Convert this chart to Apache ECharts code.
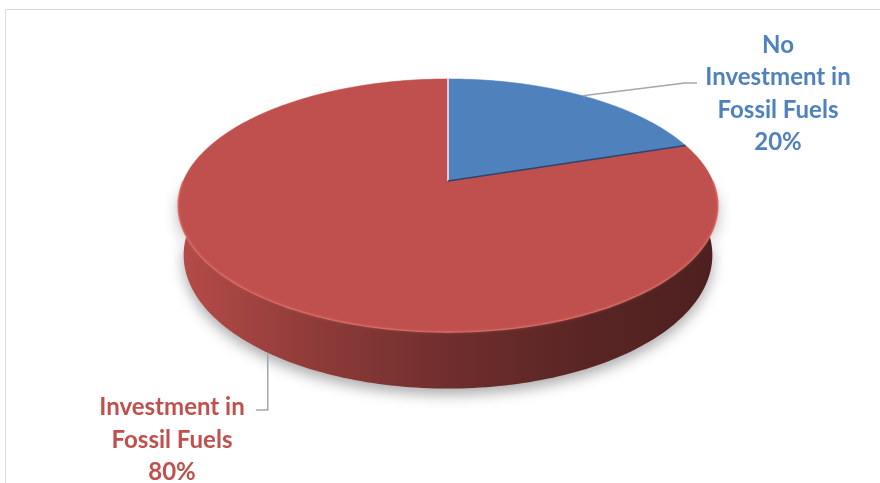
<!DOCTYPE html>
<html><head><meta charset="utf-8">
<script src="https://cdn.jsdelivr.net/npm/echarts@6/dist/echarts.min.js"></script>
<style>html,body{margin:0;padding:0;background:#fff}#c{width:880px;height:483px}</style>
</head><body><div id="c"></div>
<script>
// ---- data ----
const categories = ['No Investment in Fossil Fuels', 'Investment in Fossil Fuels'];
const labelTexts = ['No\nInvestment in\nFossil Fuels', 'Investment in\nFossil Fuels'];
const values = [20, 80];
const sliceColors = ['#4F81BD', '#C0504D'];

// ---- layout (3D perspective view of the pie) ----
const V = {cx: 448, cy: 181, f: 1245.6, kx: 0.98, d: 4.61, sinP: 0.451, cosP: 0.893, h: 0.206};
const LABEL_LAYOUT = [
  {anchor: [697, 83], elbow: 'horizontal', textX: 778, textY: 94},
  {anchor: [256, 410], elbow: 'vertical', textX: 172, textY: 440}
];
const SIDE_SHADE = [[0, 0.94], [0.25, 0.74], [0.5, 0.58], [0.8, 0.45], [1, 0.40]];

function proj(t, z) {
  const x = Math.sin(t), y = Math.cos(t);
  const Yc = y * V.sinP + z * V.cosP;
  const Zc = V.d + y * V.cosP - z * V.sinP;
  return [V.cx + V.kx * V.f * x / Zc, V.cy - V.f * Yc / Zc];
}
function arc(a0, a1, z) {
  const n = Math.max(2, Math.ceil((a1 - a0) / 0.02));
  const pts = [];
  for (let i = 0; i <= n; i++) pts.push(proj(a0 + (a1 - a0) * i / n, z));
  return pts;
}
function shade(hex, k) {
  const r = parseInt(hex.slice(1, 3), 16), g = parseInt(hex.slice(3, 5), 16), b = parseInt(hex.slice(5, 7), 16);
  return 'rgb(' + Math.round(r * k) + ',' + Math.round(g * k) + ',' + Math.round(b * k) + ')';
}
const total = values.reduce((a, b) => a + b, 0);

function renderItem(params, api) {
  const i = params.dataIndex;
  let before = 0;
  for (let k = 0; k < i; k++) before += values[k];
  const v = api.value(0);
  const start = before / total * Math.PI * 2;
  const end = (before + v) / total * Math.PI * 2;
  const color = sliceColors[i];
  const children = [];

  // outer side wall (front, visible part)
  const s0 = Math.max(start, Math.PI / 2), s1 = Math.min(end, Math.PI * 1.5);
  const left = proj(Math.PI * 1.5, 0)[0], right = proj(Math.PI * 0.5, 0)[0];
  if (s1 > s0) {
    const top = arc(s0, s1, 0);
    const bot = arc(s0, s1, -V.h).reverse();
    children.push({
      type: 'polygon', z2: 1,
      shape: {points: top.concat(bot)},
      style: {
        fill: new echarts.graphic.LinearGradient(left, 0, right, 0,
          SIDE_SHADE.map(s => ({offset: s[0], color: shade(color, s[1])})), true),
        shadowBlur: 14, shadowColor: 'rgba(0,0,0,0.33)', shadowOffsetY: 6
      }
    });
    children.push({
      type: 'polyline', z2: 7,
      shape: {points: top},
      style: {fill: null, stroke: 'rgba(225,115,110,0.55)', lineWidth: 1.6,
        shadowBlur: 3, shadowColor: 'rgba(235,130,125,0.6)'}
    });
  }
  // top face
  const apex = [V.cx, V.cy];
  children.push({
    type: 'polygon', z2: 5,
    shape: {points: [apex].concat(arc(start, end, 0))},
    style: {fill: color, stroke: color, lineWidth: 0.5}
  });
  // radial edge at slice start
  const edgePt = proj(start, 0);
  children.push({
    type: 'line', z2: 8,
    shape: {x1: apex[0], y1: apex[1], x2: edgePt[0], y2: edgePt[1]},
    style: {stroke: start === 0 ? 'rgba(255,255,255,0.9)' : '#2A4670', lineWidth: start === 0 ? 1.5 : 1.6}
  });

  // leader line + label
  const mid = (start + end) / 2;
  const ls = Math.cos(mid) < 0 ? proj(mid, -V.h) : proj(mid, 0);
  const L = LABEL_LAYOUT[i];
  const elbowPt = L.elbow === 'horizontal' ? [L.anchor[0] - 12, L.anchor[1]] : [ls[0], L.anchor[1]];
  children.push({
    type: 'polyline', z2: 9,
    shape: {points: [ls, elbowPt, L.anchor]},
    style: {fill: null, stroke: '#A6A6A6', lineWidth: 1.5}
  });
  const pct = Math.round(v / total * 100) + '%';
  children.push({
    type: 'text', z2: 10,
    style: {
      text: labelTexts[i] + '\n' + pct,
      x: L.textX, y: L.textY, align: 'center', verticalAlign: 'middle',
      fill: color, fontFamily: 'Lato', fontWeight: 'bold', fontSize: 24, lineHeight: 32.5
    }
  });
  return {type: 'group', children: children};
}

const chart = echarts.init(document.getElementById('c'), null, {renderer: 'canvas'});
chart.setOption({
  animation: false,
  backgroundColor: '#ffffff',
  graphic: [{
    type: 'rect', z: -1,
    shape: {x: 5.5, y: 9.5, width: 900, height: 500},
    style: {fill: 'none', stroke: '#D9D9D9', lineWidth: 1}
  }],
  series: [{
    type: 'custom',
    coordinateSystem: 'none',
    renderItem: renderItem,
    data: values.map((v, i) => ({name: categories[i], value: [v]}))
  }]
});
</script></body></html>
